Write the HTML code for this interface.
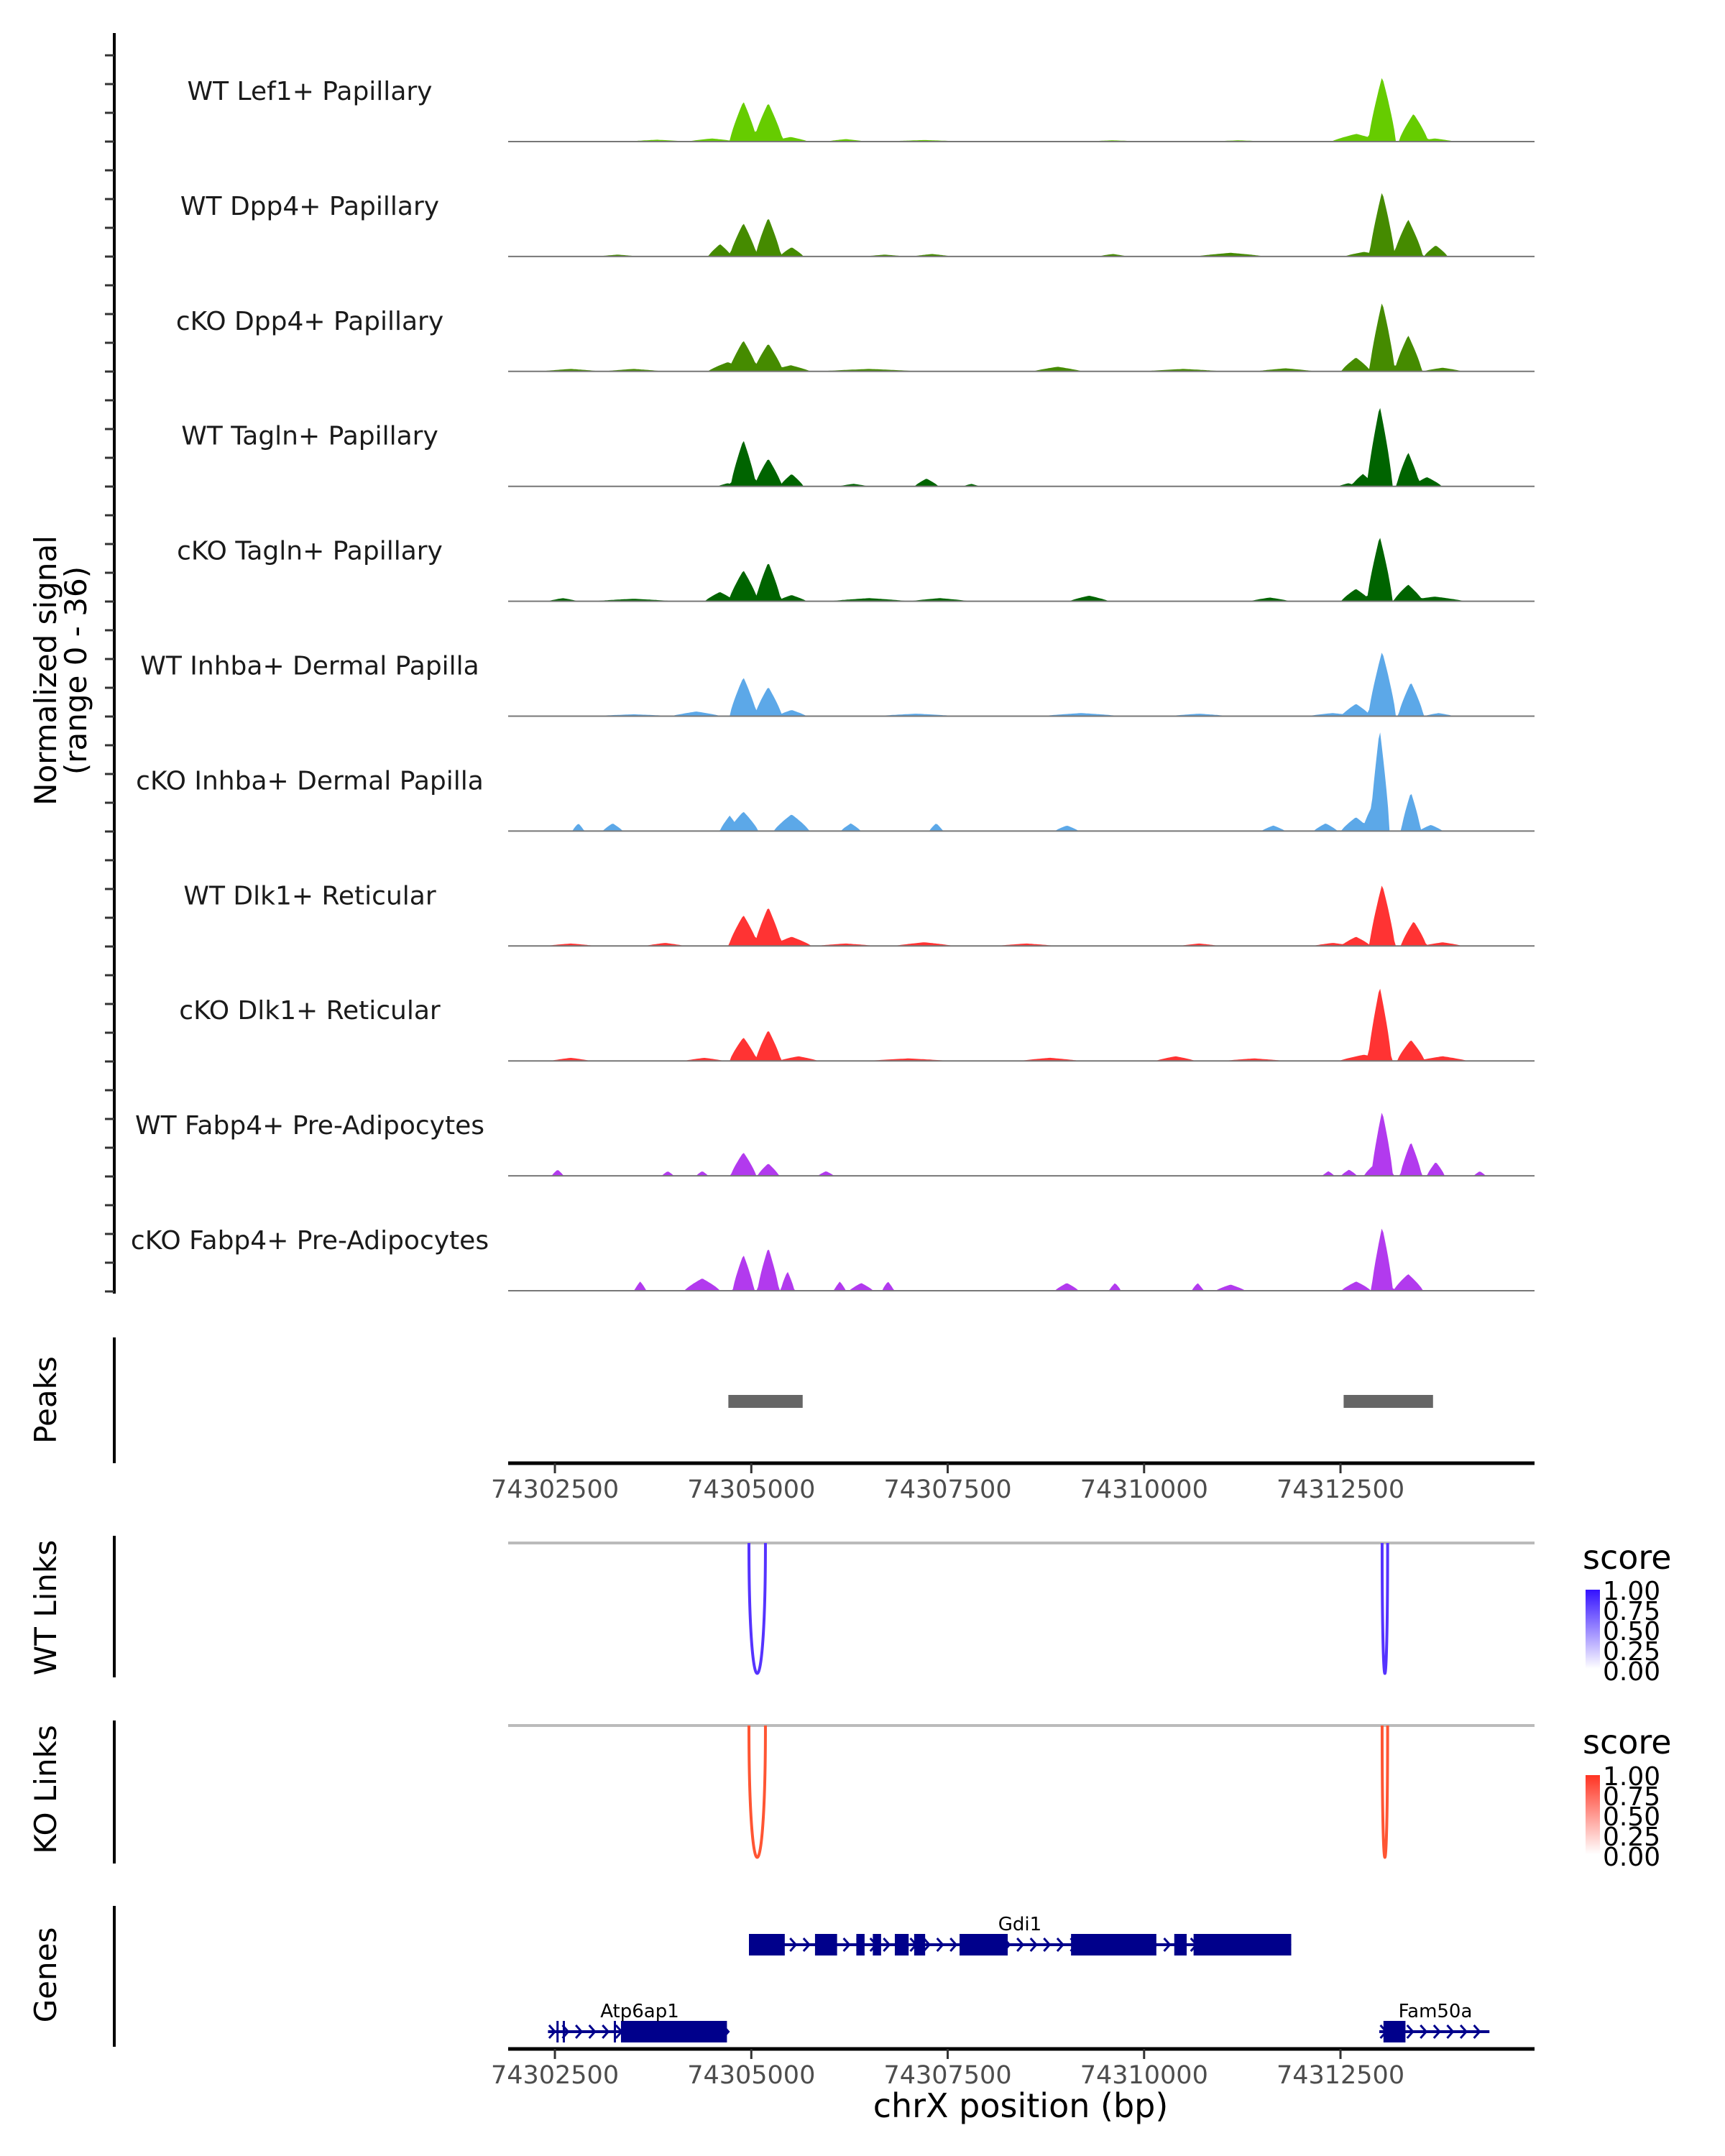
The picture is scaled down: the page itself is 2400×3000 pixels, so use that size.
<!DOCTYPE html>
<html><head><meta charset="utf-8"><style>
html,body{margin:0;padding:0;background:#fff;}
svg{display:block;font-family:"DejaVu Sans","Liberation Sans",sans-serif;}
</style></head><body>
<svg id="chart" width="2400" height="3000" viewBox="0 0 2400 3000" xmlns="http://www.w3.org/2000/svg">
<g id="tracks"></g>
<g id="peaks"></g>
<g id="links"></g>
<g id="genes"></g>
<g id="axes"></g>
</svg>
<script>
const trackNames = ["WT Lef1+ Papillary","WT Dpp4+ Papillary","cKO Dpp4+ Papillary","WT Tagln+ Papillary","cKO Tagln+ Papillary","WT Inhba+ Dermal Papilla","cKO Inhba+ Dermal Papilla","WT Dlk1+ Reticular","cKO Dlk1+ Reticular","WT Fabp4+ Pre-Adipocytes","cKO Fabp4+ Pre-Adipocytes"];
const trackColors = ["#66CC00","#458B00","#458B00","#006400","#006400","#5CA8E8","#5CA8E8","#FF3333","#FF3333","#B23AEE","#B23AEE"];
// peaks per track: [center bp, height (0-36), half-width bp]
const trackPeaks = [
 [[74304900,13,140],[74305216,12.5,150],[74305500,1.5,180],[74303800,0.6,300],[74304500,1,250],[74306200,0.8,200],[74307200,0.5,400],[74309600,0.4,300],[74311200,0.4,300],[74312700,2.5,250],[74313030,21,140],[74313430,9,150],[74313700,1,200]],
 [[74304602,4,120],[74304900,10.8,140],[74305216,12.6,130],[74305513,3,120],[74303300,0.6,200],[74306700,0.6,200],[74307300,0.8,200],[74309600,0.8,150],[74311100,1.2,350],[74312800,1.5,200],[74313030,21,130],[74313362,12,150],[74313713,3.6,120]],
 [[74304700,3,200],[74304900,10,150],[74305216,9,150],[74305500,2,200],[74302700,0.8,300],[74303500,0.8,300],[74306500,0.8,500],[74308900,1.5,250],[74310500,0.8,400],[74311800,1,300],[74312697,4.5,150],[74313030,22.5,130],[74313362,11.7,140],[74313800,1.2,200]],
 [[74304700,1,100],[74304900,15,130],[74305216,9,140],[74305513,4,120],[74306300,0.8,150],[74307230,2.5,120],[74307800,0.8,80],[74312600,1,100],[74312785,4,120],[74313000,26,130],[74313362,11,120],[74313600,3,150]],
 [[74302600,1,150],[74303500,0.8,400],[74304600,3,150],[74304900,10,150],[74305216,12.6,130],[74305513,2,150],[74306500,1,400],[74307400,1,300],[74309300,1.8,200],[74311600,1.2,200],[74312697,4,150],[74313000,21,130],[74313362,5.4,150],[74313700,1.5,300]],
 [[74303500,0.6,400],[74304300,1.5,250],[74304900,12.6,140],[74305216,9.5,140],[74305513,2,150],[74307100,0.8,400],[74309200,1,400],[74310700,0.8,300],[74312400,1,250],[74312697,4,150],[74313030,21,140],[74313397,11,130],[74313750,1,150]],
 [[74302798,2.5,60],[74303236,2.5,100],[74304725,5,100],[74304900,6.3,150],[74305513,5.4,180],[74306267,2.5,100],[74307353,2.5,70],[74309017,1.8,120],[74311645,1.8,120],[74312311,2.5,120],[74312697,4.5,150],[74312900,8,100],[74313000,33,100],[74313397,12.6,100],[74313650,2,120]],
 [[74302700,0.8,250],[74303900,1,200],[74304900,10,150],[74305216,12.6,140],[74305513,3,200],[74306200,0.8,300],[74307200,1.2,300],[74308500,0.8,300],[74310700,0.8,200],[74312400,1,200],[74312697,3,150],[74313030,20,130],[74313432,8,130],[74313800,1.2,200]],
 [[74302700,1,200],[74304400,1,200],[74304900,7.6,140],[74305216,10,130],[74305600,1.5,200],[74307000,0.8,400],[74308800,1,300],[74310400,1.5,200],[74311400,0.8,300],[74312800,2,250],[74313000,24,120],[74313397,6.8,140],[74313800,1.5,250]],
 [[74302535,2,60],[74303937,1.5,60],[74304375,1.5,60],[74304900,7.6,130],[74305216,4,110],[74305951,1.5,80],[74312346,1.5,60],[74312609,2,80],[74312900,3,80],[74313030,21,110],[74313397,11,110],[74313713,4.5,90],[74314273,1.5,60]],
 [[74303586,3,60],[74304375,4,180],[74304900,11.7,110],[74305216,14,110],[74305461,6.3,70],[74306127,3,60],[74306400,2.5,120],[74306740,3,60],[74309017,2.5,120],[74309630,2.5,60],[74310682,2.5,60],[74311100,2,150],[74312700,3,150],[74313030,20.7,110],[74313362,5.4,150]]
];
const xTicks = [74302500,74305000,74307500,74310000,74312500];
const xTickLabels = ["74302500","74305000","74307500","74310000","74312500"];
const peakRegions = [[74304708,74305654],[74312540,74313678]];
const wtLinks = [[74304970,74305180,1],[74313030,74313100,1]];
const koLinks = [[74304970,74305180,1],[74313030,74313100,1]];
const legendTicks = ["1.00","0.75","0.50","0.25","0.00"];
const geneNames = ["Gdi1","Atp6ap1","Fam50a"];
const geneSpans = [[74304970,74311873],[74302412,74304690],[74312994,74314396]];
const geneRows = [0,1,1];
const geneExons = [
 [[74304970,74305426],[74305811,74306092],[74306337,74306442],[74306547,74306652],[74306827,74307003],[74307073,74307213],[74307651,74308264],[74309070,74310156],[74310384,74310542],[74310630,74311873]],
 [[74302520,74302540],[74302600,74302620],[74303250,74303270],[74303341,74304690]],
 [[74313047,74313327]]
];

const NS="http://www.w3.org/2000/svg";
function mk(tag,attrs,parent,text){const e=document.createElementNS(NS,tag);for(const k in attrs)e.setAttribute(k,attrs[k]);if(text!==undefined)e.textContent=text;parent.appendChild(e);return e;}
const X0=707,X1=2135,BP0=74301905,BP1=74314970;
function xs(bp){return X0+(bp-BP0)*(X1-X0)/(BP1-BP0);}
const base0=197,step=159.9,unitPx=4.3;
function ys(v,i){return base0+i*step-v*unitPx;}

const gT=document.getElementById('tracks');
for(let i=0;i<trackNames.length;i++){
  const g=mk('g',{},gT);
  
  
  const lbl=mk('text',{x:431,y:base0+i*step-58,'text-anchor':'middle','font-size':36,fill:'#1a1a1a'},g,trackNames[i]);
  
  
  const BIN=20;let d='M'+xs(BP0)+','+ys(0,i);
  for(let b=BP0;b<=BP1;b+=BIN){
    let v=0;
    for(const p of trackPeaks[i]){const t=1-Math.abs(b-p[0])/(p[2]*1.25);if(t>0)v=Math.max(v,p[1]*Math.pow(t,0.8));}
    d+=' L'+xs(b).toFixed(1)+','+ys(v,i).toFixed(1);
  }
  d+=' L'+xs(BP1)+','+ys(0,i)+' Z';
  const area=mk('path',{d:d,fill:trackColors[i]},g);
  
  
  const bl=mk('line',{x1:X0,x2:X1,y1:ys(0,i),y2:ys(0,i),stroke:'#777','stroke-width':2},g);
  
  
}

const gA=document.getElementById('axes');
const la=mk('line',{x1:159,x2:159,y1:46,y2:1800,stroke:'#000','stroke-width':4},gA);

for(let y=77;y<1800;y+=40){const t=mk('line',{x1:146,x2:159,y1:y,y2:y,stroke:'#333','stroke-width':3},gA);}
const yt=mk('text',{transform:'translate(78,933) rotate(-90)','text-anchor':'middle','font-size':42,fill:'#000'},gA);

mk('tspan',{x:0,dy:0},yt,'Normalized signal');mk('tspan',{x:0,dy:42},yt,'(range 0 - 36)');

function sideLabel(txt,y,y1,y2,name){
  const t=mk('text',{transform:'translate(78,'+y+') rotate(-90)','text-anchor':'middle','font-size':42,fill:'#000'},gA,txt);
  
  const l=mk('line',{x1:159,x2:159,y1:y1,y2:y2,stroke:'#000','stroke-width':4},gA);
  
}
sideLabel('Peaks',1948,1861,2036,'peaks');
sideLabel('WT Links',2237,2137,2334,'wt-links');
sideLabel('KO Links',2490,2394,2593,'ko-links');
sideLabel('Genes',2748,2652,2848,'genes');

function xAxis(y,name){
  const l=mk('line',{x1:X0,x2:X1,y1:y,y2:y,stroke:'#000','stroke-width':5},gA);
  
  xTicks.forEach((v,k)=>{
    const t=mk('line',{x1:xs(v),x2:xs(v),y1:y,y2:y+14,stroke:'#333','stroke-width':3},gA);
    
    const tl=mk('text',{x:xs(v),y:y+48,'text-anchor':'middle','font-size':35,fill:'#4d4d4d'},gA,xTickLabels[k]);
    
  });
}
xAxis(2036,'peaks-x-axis');
xAxis(2851,'x-axis');
const xt=mk('text',{x:1420,y:2946,'text-anchor':'middle','font-size':46,fill:'#000'},gA,'chrX position (bp)');


const gP=document.getElementById('peaks');
peakRegions.forEach(r=>{const b=mk('rect',{x:xs(r[0]),y:1941,width:xs(r[1])-xs(r[0]),height:18,fill:'#666'},gP);});

const gL=document.getElementById('links');
const defs=mk('defs',{},gL);
const g1=mk('linearGradient',{id:'gwt',x1:0,y1:1,x2:0,y2:0},defs);mk('stop',{offset:0,'stop-color':'#ffffff'},g1);mk('stop',{offset:1,'stop-color':'#3311ff'},g1);
const g2=mk('linearGradient',{id:'gko',x1:0,y1:1,x2:0,y2:0},defs);mk('stop',{offset:0,'stop-color':'#ffffff'},g2);mk('stop',{offset:1,'stop-color':'#ff3322'},g2);
function linkTrack(data,top,bottom,color,grad,legY,barTop,name){
  const bl=mk('line',{x1:X0,x2:X1,y1:top,y2:top,stroke:'#bbb','stroke-width':4},gL);
  
  data.forEach(l=>{
    const a=xs(l[0]),b=xs(l[1]),depth=(bottom-top)*l[2];
    const p=mk('path',{d:`M${a},${top} C${a},${top+depth*1.33} ${b},${top+depth*1.33} ${b},${top}`,fill:'none',stroke:color,'stroke-width':4},gL);
    
  });
  const lt=mk('text',{x:2202,y:legY,'font-size':46,fill:'#000'},gL,'score');
  
  const r=mk('rect',{x:2206,y:barTop,width:20,height:110,fill:'url(#'+grad+')'},gL);
  
  legendTicks.forEach((t,k)=>{const tx=mk('text',{x:2230,y:barTop+14+k*28,'font-size':36,fill:'#000'},gL,t);});
}
linkTrack(wtLinks,2147,2329,'#5533ff','gwt',2183,2212,'wt-links');
linkTrack(koLinks,2401,2585,'#ff5533','gko',2440,2470,'ko-links');

const gG=document.getElementById('genes');
const rowY=[2706,2827];
geneNames.forEach((n,k)=>{
  const y=rowY[geneRows[k]];const s=geneSpans[k];
  const g=mk('g',{},gG);
  mk('line',{x1:xs(s[0]),x2:xs(s[1]),y1:y,y2:y,stroke:'#00008B','stroke-width':4},g);
  for(let b=s[0]+60;b<s[1];b+=170){const x=xs(b);mk('path',{d:`M${x-5},${y-9} L${x+3},${y} L${x-5},${y+9}`,fill:'none',stroke:'#00008B','stroke-width':3},g);}
  geneExons[k].forEach(e=>{mk('rect',{x:xs(e[0]),y:y-15,width:Math.max(3,xs(e[1])-xs(e[0])),height:30,fill:'#00008B'},g);});
  const lx=k==0?1419:(k==1?890:1997);
  const t=mk('text',{x:lx,y:y-20,'text-anchor':'middle','font-size':26,fill:'#000'},g,n);
  
});
</script>
</body></html>
